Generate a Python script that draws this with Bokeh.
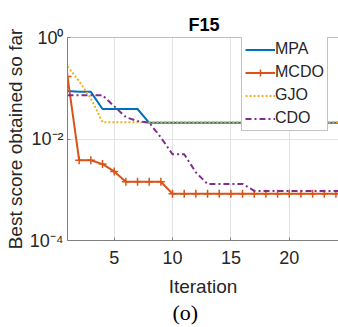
from bokeh.plotting import figure
from bokeh.models import (Range1d, FixedTicker, Legend, Title, Span,
                          LegendItem, CustomJSTickFormatter)
from bokeh.embed import file_html
from bokeh.resources import INLINE

# ---------------- data ----------------
iterations = [1, 2, 3, 4, 5, 6, 7, 8, 9, 10, 11, 12, 13, 14, 15, 16, 17, 18, 19, 20, 21, 22, 23, 24, 25]
mpa = [0.088, 0.085, 0.085, 0.039, 0.039, 0.039, 0.039, 0.0208, 0.0208, 0.0208,
       0.0208, 0.0208, 0.0208, 0.0208, 0.0208, 0.0208, 0.0208, 0.0208, 0.0208, 0.0208,
       0.0208, 0.0208, 0.0208, 0.0208, 0.0208]
mcdo = [0.17, 0.0038, 0.0038, 0.0032, 0.0023, 0.00144, 0.00144, 0.00144, 0.00144, 0.00083,
        0.00083, 0.00083, 0.00083, 0.00083, 0.00083, 0.00083, 0.00083, 0.00083, 0.00083, 0.00083,
        0.00083, 0.00083, 0.00083, 0.00083, 0.00083]
gjo = [0.27, 0.137, 0.063, 0.0215, 0.0215, 0.0215, 0.0215, 0.0215, 0.0215, 0.0215,
       0.0215, 0.0215, 0.0215, 0.0215, 0.0215, 0.0215, 0.0215, 0.0215, 0.0215, 0.0215,
       0.0215, 0.0215, 0.0215, 0.0215, 0.0215]
cdo = [0.073, 0.073, 0.073, 0.073, 0.044, 0.027, 0.0225, 0.021, 0.0107, 0.005,
       0.005, 0.0022, 0.0013, 0.0013, 0.0013, 0.0013, 0.00095, 0.00095, 0.00095, 0.00095,
       0.00095, 0.00095, 0.00095, 0.00095, 0.00095]
series_names = ["MPA", "MCDO", "GJO", "CDO"]
x_ticks = [5, 10, 15, 20]
y_ticks = [1e-4, 1e-2, 1e0]
y_tick_labels = ["10\u207b\u2074", "10\u207b\u00b2", "10\u2070"]
title_text = "F15"
x_label = "Iteration"
y_label = "Best score obtained so far"
caption = "(o)"

# ---------------- styles ----------------
FONT = "Liberation Sans"
AXIS_COLOR = "#808080"
TEXT_COLOR = "#262626"
GRID_COLOR = "#e3e3e3"
colors = ["#0072BD", "#D95319", "#EDB120", "#7E2F8E"]

p = figure(width=338, height=327, x_range=Range1d(1, 24.22),
           y_range=Range1d(1e-4, 1), y_axis_type="log",
           output_backend="svg", toolbar_location=None,
           min_border_left=67, min_border_right=0,
           min_border_top=37, min_border_bottom=87)
p.outline_line_color = None
p.background_fill_color = "white"
p.border_fill_color = "white"

# title
p.title.text = title_text
p.title.align = "left"
p.title.offset = 121
p.title.text_font = FONT
p.title.text_font_size = "18px"
p.title.text_font_style = "bold"
p.title.text_color = "#000000"
p.title.standoff = 5

# axes
p.xaxis.ticker = FixedTicker(ticks=x_ticks)
p.yaxis.ticker = FixedTicker(ticks=y_ticks)
p.yaxis.formatter = CustomJSTickFormatter(args=dict(tvals=y_ticks, tlabels=y_tick_labels), code="""
for (let i = 0; i < tvals.length; i++) {
  if (Math.abs(Math.log10(tvals[i]) - Math.log10(tick)) < 0.01) return tlabels[i];
}
return "";
""")
for ax in (p.xaxis[0], p.yaxis[0]):
    ax.axis_line_color = AXIS_COLOR
    ax.major_tick_line_color = AXIS_COLOR
    ax.major_tick_in = 3
    ax.major_tick_out = 0
    ax.minor_tick_line_color = None
    ax.major_label_text_font = FONT
    ax.major_label_text_font_size = "18px"
    ax.major_label_text_color = TEXT_COLOR
    ax.axis_label_text_font = FONT
    ax.axis_label_text_font_size = "19px"
    ax.axis_label_text_font_style = "normal"
    ax.axis_label_text_color = TEXT_COLOR
p.xaxis.major_label_standoff = 10
p.yaxis.major_label_standoff = 4
p.xaxis.axis_label = x_label
p.xaxis.axis_label_standoff = 9
p.yaxis.axis_label = y_label
p.yaxis.axis_label_standoff = 1

# top edge of the axes box
p.add_layout(Span(location=1, dimension="width", line_color=AXIS_COLOR, line_width=1))

# caption under the axes
p.add_layout(Title(text=caption, align="left", offset=105, text_font="Liberation Serif",
                   text_font_size="22px", text_font_style="normal", text_color="#000000",
                   standoff=-3), "below")

# grid
p.xgrid.ticker = FixedTicker(ticks=x_ticks)
p.ygrid.ticker = FixedTicker(ticks=y_ticks)
p.xgrid.grid_line_color = GRID_COLOR
p.ygrid.grid_line_color = GRID_COLOR

# series
r_mpa = p.line(iterations, mpa, line_color=colors[0], line_width=2)
r_mcdo = p.line(iterations, mcdo, line_color=colors[1], line_width=2)
r_mcdo_m = p.scatter(iterations, mcdo, marker="cross", size=8, line_color=colors[1], line_width=1.5)
r_gjo = p.line(iterations, gjo, line_color=colors[2], line_width=2, line_dash="2 2")
r_cdo = p.line(iterations, cdo, line_color=colors[3], line_width=2, line_dash="6 3 2 3")

legend = Legend(items=[
    LegendItem(label=series_names[0], renderers=[r_mpa]),
    LegendItem(label=series_names[1], renderers=[r_mcdo, r_mcdo_m]),
    LegendItem(label=series_names[2], renderers=[r_gjo]),
    LegendItem(label=series_names[3], renderers=[r_cdo]),
], location=(174, 109))
legend.label_text_font = FONT
legend.label_text_font_size = "16px"
legend.label_text_color = TEXT_COLOR
legend.glyph_width = 30
legend.glyph_height = 17
legend.label_height = 17
legend.spacing = 5
legend.padding = 3
legend.margin = 0
legend.label_standoff = 0
legend.border_line_color = "#888888"
legend.border_line_width = 1
legend.background_fill_color = "white"
legend.background_fill_alpha = 1
p.add_layout(legend)

open("out.html", "w").write(file_html(p, INLINE))
